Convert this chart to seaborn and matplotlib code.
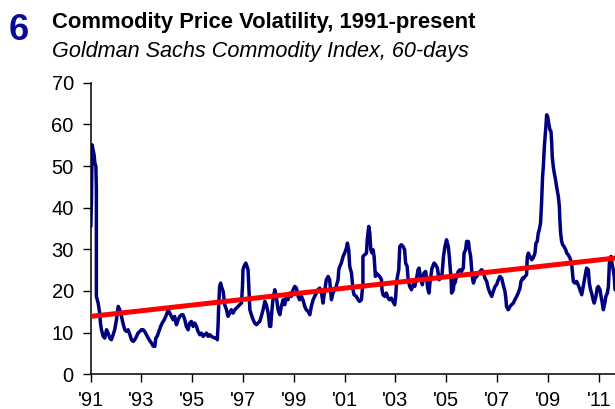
import numpy as np
import pandas as pd
import matplotlib
matplotlib.use("Agg")
import matplotlib.pyplot as plt
import seaborn as sns

# 60-day volatility of the GSCI (decimal year, percent)
years = [
    1991.01, 1991.04, 1991.06, 1991.10, 1991.14, 1991.17, 1991.21, 1991.23, 1991.23, 1991.30,
    1991.36, 1991.39, 1991.43, 1991.50, 1991.56, 1991.63, 1991.69, 1991.76, 1991.82, 1991.89,
    1991.95, 1992.02, 1992.09, 1992.15, 1992.22, 1992.26, 1992.31, 1992.35, 1992.41, 1992.48,
    1992.55, 1992.61, 1992.68, 1992.74, 1992.81, 1992.87, 1992.94, 1993.00, 1993.07, 1993.13,
    1993.20, 1993.27, 1993.33, 1993.40, 1993.46, 1993.53, 1993.57, 1993.62, 1993.69, 1993.76,
    1993.82, 1993.90, 1993.99, 1994.05, 1994.12, 1994.18, 1994.25, 1994.31, 1994.38, 1994.45,
    1994.51, 1994.58, 1994.64,
    1994.71, 1994.77, 1994.84, 1994.90, 1994.97, 1995.04, 1995.10, 1995.17, 1995.23, 1995.30,
    1995.36, 1995.43, 1995.50, 1995.56, 1995.63, 1995.69, 1995.76, 1995.82, 1995.89, 1995.95,
    1995.99, 1996.02, 1996.04, 1996.08, 1996.12, 1996.15, 1996.22, 1996.26, 1996.28, 1996.35,
    1996.41, 1996.48, 1996.54, 1996.61, 1996.68, 1996.74, 1996.81, 1996.87, 1996.94, 1996.98,
    1997.00, 1997.04, 1997.11, 1997.16, 1997.20, 1997.23, 1997.27, 1997.33, 1997.40, 1997.46,
    1997.53, 1997.59, 1997.66, 1997.72, 1997.79, 1997.86, 1997.92, 1997.99, 1998.05, 1998.09,
    1998.14, 1998.18, 1998.25, 1998.31, 1998.38, 1998.45, 1998.51, 1998.58, 1998.64, 1998.71,
    1998.77, 1998.84, 1998.90, 1998.97, 1999.04, 1999.10, 1999.17, 1999.23, 1999.30, 1999.36,
    1999.43, 1999.49, 1999.56, 1999.63, 1999.69, 1999.76, 1999.82, 1999.89, 1999.95, 2000.02,
    2000.09, 2000.15, 2000.22, 2000.28, 2000.35, 2000.41, 2000.48, 2000.54, 2000.61, 2000.67,
    2000.74, 2000.77, 2000.81, 2000.87, 2000.94, 2001.00, 2001.07, 2001.11, 2001.16, 2001.20,
    2001.27, 2001.33, 2001.37, 2001.46, 2001.53, 2001.59,
    2001.66, 2001.72, 2001.72, 2001.79, 2001.86, 2001.89, 2001.95, 2001.99, 2002.03, 2002.08,
    2002.12, 2002.16, 2002.21, 2002.25, 2002.31, 2002.38, 2002.45, 2002.47, 2002.51, 2002.58,
    2002.64, 2002.71, 2002.77, 2002.84, 2002.90, 2002.97, 2003.01, 2003.04, 2003.08, 2003.13,
    2003.17, 2003.23, 2003.30, 2003.36, 2003.40, 2003.46, 2003.50, 2003.56, 2003.63, 2003.69,
    2003.76, 2003.82, 2003.89, 2003.93, 2003.99, 2004.06, 2004.12, 2004.19, 2004.28, 2004.32,
    2004.37, 2004.44, 2004.52, 2004.58, 2004.65, 2004.72, 2004.78, 2004.83,
    2004.86, 2004.89, 2004.95, 2005.01, 2005.08, 2005.12, 2005.15, 2005.19, 2005.21, 2005.28,
    2005.31, 2005.34, 2005.41, 2005.47, 2005.54, 2005.60, 2005.67, 2005.70, 2005.76, 2005.80,
    2005.87, 2005.91, 2005.96, 2006.00, 2006.04, 2006.07, 2006.13, 2006.20, 2006.26, 2006.33,
    2006.39, 2006.46, 2006.52, 2006.59, 2006.65, 2006.72, 2006.79, 2006.85, 2006.92, 2006.98,
    2007.05, 2007.11, 2007.18, 2007.24, 2007.31, 2007.35, 2007.37, 2007.44, 2007.51, 2007.57,
    2007.64, 2007.70, 2007.77, 2007.83, 2007.90, 2007.94, 2008.00,
    2008.03, 2008.10, 2008.16, 2008.19, 2008.23, 2008.29, 2008.36, 2008.42, 2008.49, 2008.53,
    2008.58, 2008.62, 2008.66, 2008.71, 2008.75, 2008.79, 2008.82, 2008.86, 2008.88, 2008.92,
    2008.95, 2008.99, 2009.03, 2009.08, 2009.12, 2009.15, 2009.17, 2009.21, 2009.25, 2009.30,
    2009.34, 2009.41, 2009.45, 2009.47, 2009.50, 2009.54, 2009.58, 2009.63, 2009.70, 2009.74,
    2009.80, 2009.87, 2009.93, 2009.97, 2010.00, 2010.06, 2010.13, 2010.19, 2010.26, 2010.33,
    2010.39, 2010.46, 2010.52, 2010.59, 2010.63, 2010.68, 2010.72, 2010.78, 2010.82, 2010.89,
    2010.94, 2010.98, 2011.05, 2011.09, 2011.14, 2011.18, 2011.24, 2011.28, 2011.34, 2011.38,
    2011.42, 2011.44, 2011.48, 2011.52, 2011.57, 2011.61, 2011.64,
]
volatility = [
    35.5, 42.7, 55.1, 53.9, 52.7, 50.7, 49.9, 44.5, 18.7, 17.1,
    14.7, 12.3, 10.7, 9.1, 8.7, 10.7, 9.9, 8.7, 8.3, 9.5,
    10.7, 13.1, 16.3, 15.5, 13.9, 12.7, 11.5, 10.7, 10.3, 10.7,
    9.5, 8.3, 7.9, 8.3, 9.1, 9.9, 10.3, 10.7, 10.7, 10.3,
    9.5, 8.7, 8.1, 7.5, 6.8, 6.7, 8.7, 9.1, 10.3, 11.5,
    12.3, 13.1, 14.3, 15.5, 14.7, 13.9, 13.1, 13.9, 11.9, 13.1,
    13.9, 14.3, 14.3,
    13.1, 11.5, 10.7, 12.3, 12.7, 11.5, 12.3, 11.5, 10.3, 9.5,
    9.9, 9.1, 9.5, 9.9, 9.1, 9.5, 9.1, 8.9, 8.7, 8.7,
    8.3, 11.9, 15.9, 21.1, 21.9, 21.1, 19.9, 17.9, 16.7, 15.5,
    13.9, 14.7, 15.5, 14.7, 15.5, 15.9, 16.3, 16.7, 17.1, 21.1,
    25.1, 25.9, 26.7, 25.9, 25.1, 21.1, 15.5, 14.3, 13.1, 12.3,
    11.9, 12.3, 12.7, 13.9, 15.5, 17.5, 16.7, 14.7, 11.5, 11.5,
    15.5, 17.9, 20.3, 18.7, 15.5, 14.3, 16.3, 17.9, 16.7, 18.7,
    17.9, 19.5, 18.7, 20.3, 21.1, 20.7, 18.7, 17.9, 18.7, 17.9,
    16.3, 15.5, 15.1, 14.3, 16.3, 17.9, 18.7, 19.5, 20.3, 20.7,
    19.5, 17.1, 20.3, 22.7, 23.5, 22.7, 17.9, 19.5, 20.3, 21.1,
    22.7, 25.1, 25.9, 26.7, 28.3, 29.1, 30.3, 31.5, 29.9, 25.9,
    24.3, 20.3, 19.1, 18.7, 17.9, 17.5,
    17.9, 21.9, 28.3, 28.7, 29.1, 32.3, 35.5, 33.9, 29.9, 29.1,
    29.9, 28.3, 23.5, 24.3, 23.9, 23.5, 22.7, 20.3, 19.1, 18.7,
    19.5, 18.3, 17.9, 18.3, 17.5, 16.7, 18.7, 21.9, 23.5, 25.1,
    30.7, 31.1, 30.7, 29.9, 26.7, 25.9, 22.7, 21.1, 20.3, 21.5,
    21.1, 22.7, 25.1, 25.5, 23.1, 21.5, 24.3, 24.7, 20.3, 19.5,
    22.7, 25.5, 26.7, 26.3, 25.5, 22.7, 23.1, 23.9,
    25.9, 28.3, 30.7, 32.3, 30.7, 28.3, 25.9, 22.7, 19.5, 20.3,
    22.7, 21.9, 23.5, 24.7, 25.1, 24.7, 25.5, 29.1, 29.9, 31.9,
    31.9, 29.9, 28.3, 25.1, 22.7, 21.9, 23.1, 23.5, 24.3, 24.7,
    25.1, 24.7, 23.1, 22.3, 20.7, 19.5, 18.7, 19.9, 21.1, 21.5,
    22.7, 23.5, 23.1, 21.5, 19.9, 17.9, 16.3, 15.5, 16.3, 16.7,
    17.1, 17.9, 18.7, 19.5, 20.7, 22.3, 23.1,
    22.9, 23.5, 23.9, 28.3, 29.1, 28.3, 27.5, 27.9, 29.1, 31.5,
    31.9, 33.9, 34.7, 36.3, 41.1, 47.5, 49.9, 54.7, 56.3, 59.5,
    62.3, 61.9, 60.3, 58.7, 58.3, 55.5, 52.3, 49.9, 48.3, 46.7,
    45.1, 42.7, 40.3, 37.1, 33.9, 31.9, 31.1, 30.7, 29.9, 29.1,
    28.7, 27.9, 26.7, 24.3, 22.3, 21.9, 22.3, 21.5, 20.3, 19.1,
    21.1, 23.5, 25.5, 25.1, 21.9, 20.3, 19.5, 17.9, 17.1, 18.7,
    20.7, 21.1, 20.3, 18.7, 17.1, 15.5, 17.1, 18.7, 19.5, 21.1,
    26.7, 27.5, 28.3, 26.7, 25.1, 23.5, 20.3,
]

# linear trend line endpoints
trend_years = [1991.0, 2011.64]
trend_values = [13.9, 27.9]

x_ticks = [1991, 1993, 1995, 1997, 1999, 2001, 2003, 2005, 2007, 2009, 2011]
x_tick_labels = ["'91", "'93", "'95", "'97", "'99", "'01", "'03", "'05", "'07", "'09", "'11"]
y_ticks = [0, 10, 20, 30, 40, 50, 60, 70]

sns.set_theme(style="white")
plt.rcParams["font.family"] = ["Liberation Sans", "DejaVu Sans"]

fig = plt.figure(figsize=(6.15, 4.09), dpi=100)
ax = fig.add_axes([0.1472, 0.0848, 0.8528, 0.713])

df = pd.DataFrame({"year": years, "vol": volatility})
sns.lineplot(data=df, x="year", y="vol", ax=ax, estimator=None, sort=False,
             color="#00007F", linewidth=2.5, zorder=2)
tdf = pd.DataFrame({"year": trend_years, "vol": trend_values})
sns.lineplot(data=tdf, x="year", y="vol", ax=ax, estimator=None, sort=False,
             color="#FF0000", linewidth=3.6, zorder=3)

ax.set_xlim(1991.0, 2011.64)
ax.set_ylim(0, 70)
ax.set_xticks(x_ticks)
ax.set_xticklabels(x_tick_labels)
ax.set_yticks(y_ticks)
ax.set_xlabel("")
ax.set_ylabel("")
ax.tick_params(axis="both", which="major", direction="out", length=6, width=1.0,
               color="black", labelsize=14.5, labelcolor="black",
               bottom=True, left=True, pad=6)
for side in ["top", "right"]:
    ax.spines[side].set_visible(False)
for side in ["left", "bottom"]:
    ax.spines[side].set_color("black")
    ax.spines[side].set_linewidth(1.1)

fig.text(0.0146, 1 - 40 / 409, "6", fontsize=26, fontweight="bold", color="#0A0A9A",
         va="baseline", ha="left")
fig.text(52 / 615, 1 - 28 / 409, "Commodity Price Volatility, 1991-present", fontsize=15.8,
         fontweight="bold", color="black", va="baseline", ha="left")
fig.text(52 / 615, 1 - 57 / 409, "Goldman Sachs Commodity Index, 60-days", fontsize=15.6,
         fontstyle="italic", color="black", va="baseline", ha="left")

fig.savefig("out.png", dpi=100)
